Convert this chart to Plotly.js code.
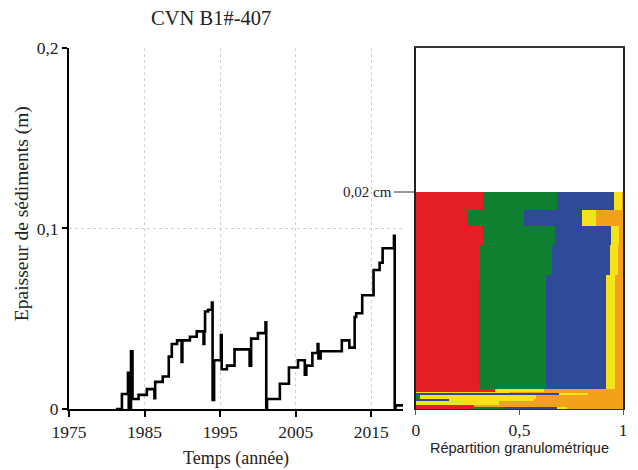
<!DOCTYPE html>
<html>
<head>
<meta charset="utf-8">
<script src="https://cdn.plot.ly/plotly-3.0.1.min.js"></script>
<style>html,body{margin:0;padding:0;background:#fff}#chart{width:638px;height:470px}</style>
</head>
<body>
<div id="chart"></div>
<script>
// Left panel: sediment thickness (m) vs time (year), step curve
const years = [1981.2, 1982.0, 1982.8, 1982.9, 1983.2, 1983.4, 1984.2, 1985.3, 1986.3, 1986.4, 1987.4, 1988.2, 1988.6, 1989.3, 1989.9, 1990.0, 1991.0, 1991.9, 1992.8, 1992.9, 1993.0, 1993.4, 1993.9, 1994.0, 1994.2, 1995.1, 1995.2, 1995.9, 1996.9, 1998.9, 1999.1, 2000.0, 2001.0, 2001.1, 2001.2, 2002.9, 2004.1, 2005.3, 2006.2, 2006.4, 2007.2, 2007.9, 2008.0, 2008.3, 2011.1, 2012.1, 2012.8, 2013.0, 2013.8, 2015.3, 2016.1, 2016.5, 2018.0, 2018.1, 2018.2, 2019.2];
const thickness = [0, 0.0083, 0.020, 0, 0.032, 0.0055, 0.0078, 0.011, 0.006, 0.015, 0.018, 0.029, 0.036, 0.038, 0.026, 0.038, 0.040, 0.043, 0.036, 0.043, 0.054, 0.055, 0.059, 0.005, 0.027, 0.041, 0.022, 0.024, 0.033, 0.024, 0.039, 0.042, 0.048, 0, 0.0055, 0.014, 0.023, 0.027, 0.019, 0.024, 0.031, 0.036, 0.028, 0.032, 0.038, 0.034, 0.051, 0.053, 0.063, 0.077, 0.081, 0.089, 0.096, 0, 0.002, 0.002];

// Right panel: grain size distribution per layer (top -> bottom)
const layerTop    = [0.1202, 0.1101, 0.1013, 0.0907, 0.0742, 0.0111, 0.0094, 0.0086, 0.0078, 0.0055, 0.0044, 0.0022, 0.0011];
const layerBottom = [0.1101, 0.1013, 0.0907, 0.0742, 0.0111, 0.0094, 0.0086, 0.0078, 0.0055, 0.0044, 0.0022, 0.0011, 0.0];
const classNames = ['Classe 1', 'Classe 2', 'Classe 3', 'Classe 4', 'Classe 5'];
const classColors = ['#e31e24', '#0f7f30', '#2e4a99', '#f5e31a', '#f3a01b'];
const fracRed    = [0.325, 0.25, 0.325, 0.31, 0.305, 0.38, 0.0, 0.0, 0.0, 0.0, 0.0, 0.28, 0.28];
const fracGreen  = [0.355, 0.27, 0.345, 0.345, 0.325, 0.0, 0.0, 0.0, 0.02, 0.0, 0.0, 0.0, 0.15];
const fracBlue   = [0.275, 0.28, 0.27, 0.28, 0.29, 0.0, 0.0, 0.69, 0.0, 0.16, 0.0, 0.0, 0.25];
const fracYellow = [0.04, 0.07, 0.04, 0.04, 0.04, 0.24, 0.45, 0.14, 0.56, 0.41, 0.40, 0.0, 0.05];
const fracOrange = [0.005, 0.13, 0.02, 0.025, 0.04, 0.38, 0.55, 0.17, 0.42, 0.43, 0.60, 0.72, 0.27];
const fractions = [fracRed, fracGreen, fracBlue, fracYellow, fracOrange];

const yTicks = [0, 0.1, 0.2];
const xTicks = [1975, 1985, 1995, 2005, 2015];
const x2Ticks = [0, 0.5, 1];

const layerCenter = layerTop.map((t, i) => (t + layerBottom[i]) / 2);
const layerWidth = layerTop.map((t, i) => t - layerBottom[i]);

const traces = [{
  x: years, y: thickness, type: 'scatter', mode: 'lines',
  line: {shape: 'hv', color: '#000', width: 2.6},
  xaxis: 'x', yaxis: 'y', showlegend: false, hoverinfo: 'skip'
}];
fractions.forEach((f, k) => {
  traces.push({
    type: 'bar', orientation: 'h', x: f, y: layerCenter, width: layerWidth,
    marker: {color: classColors[k], line: {width: 0}}, name: classNames[k],
    xaxis: 'x2', yaxis: 'y2', showlegend: false, hoverinfo: 'skip'
  });
});

const serif = 'Liberation Serif, Times New Roman, serif';
const sans = 'Liberation Sans, Arial, sans-serif';
const gridStyle = {showgrid: true, gridcolor: '#cfcfcf', griddash: '3px,3px', gridwidth: 1};
const layout = {
  width: 638, height: 470,
  margin: {l: 0, r: 0, t: 0, b: 0},
  paper_bgcolor: '#fff', plot_bgcolor: '#fff',
  separators: ', ',
  barmode: 'stack', bargap: 0,
  font: {family: serif, color: '#222', size: 17},
  title: {text: 'CVN B1#-407', x: 0.331, xanchor: 'center', y: 0.963, yanchor: 'middle', font: {family: serif, size: 20.5, color: '#222'}},
  xaxis: Object.assign({
    domain: [0.1082, 0.6317], range: [1975, 2019.2], tickmode: 'array', tickvals: xTicks,
    showline: true, linecolor: '#000', linewidth: 2, ticks: 'outside', ticklen: 6, tickwidth: 2, tickcolor: '#000',
    zeroline: false, anchor: 'y',
    tickfont: {family: serif, size: 17.5, color: '#222'},
    title: {text: 'Temps (année)', font: {family: serif, size: 18, color: '#222'}, standoff: 10}
  }, gridStyle),
  yaxis: Object.assign({
    domain: [0.1298, 0.898], range: [0, 0.2], tickmode: 'array', tickvals: yTicks,
    showline: true, linecolor: '#000', linewidth: 2, ticks: 'outside', ticklen: 5, tickwidth: 2, tickcolor: '#000',
    zeroline: false, anchor: 'x',
    tickfont: {family: serif, size: 17.5, color: '#222'}
  }, gridStyle),
  xaxis2: {
    domain: [0.652, 0.9765], range: [0, 1], tickmode: 'array', tickvals: x2Ticks,
    showline: true, mirror: true, linecolor: '#333', linewidth: 1.5, ticks: 'outside', ticklen: 5, tickwidth: 1, tickcolor: '#555',
    showgrid: false, zeroline: false, anchor: 'y2',
    tickfont: {family: serif, size: 17.5, color: '#222'},
    title: {text: 'Répartition granulométrique', font: {family: sans, size: 14.5, color: '#222'}, standoff: 2}
  },
  yaxis2: {
    domain: [0.1298, 0.898], range: [0, 0.2], showticklabels: false, ticks: '',
    showline: true, mirror: true, linecolor: '#222', linewidth: 2,
    showgrid: false, zeroline: false, anchor: 'x2'
  },
  annotations: [{
    xref: 'x2', yref: 'y2', x: 0, y: layerTop[0], ax: -22, ay: 0,
    xanchor: 'right', yanchor: 'middle', text: '0,02 cm',
    showarrow: true, arrowhead: 0, arrowwidth: 1, arrowcolor: '#333', standoff: 0, startstandoff: 0,
    font: {family: serif, size: 15, color: '#222'}
  }, {
    xref: 'paper', yref: 'paper', x: 0.035, y: 0.545, xanchor: 'center', yanchor: 'middle',
    textangle: -90, text: 'Epaisseur de sédiments (m)', showarrow: false,
    font: {family: serif, size: 19.5, color: '#222'}
  }]
};

Plotly.newPlot('chart', traces, layout, {displayModeBar: false, staticPlot: true});
</script>
</body>
</html>
